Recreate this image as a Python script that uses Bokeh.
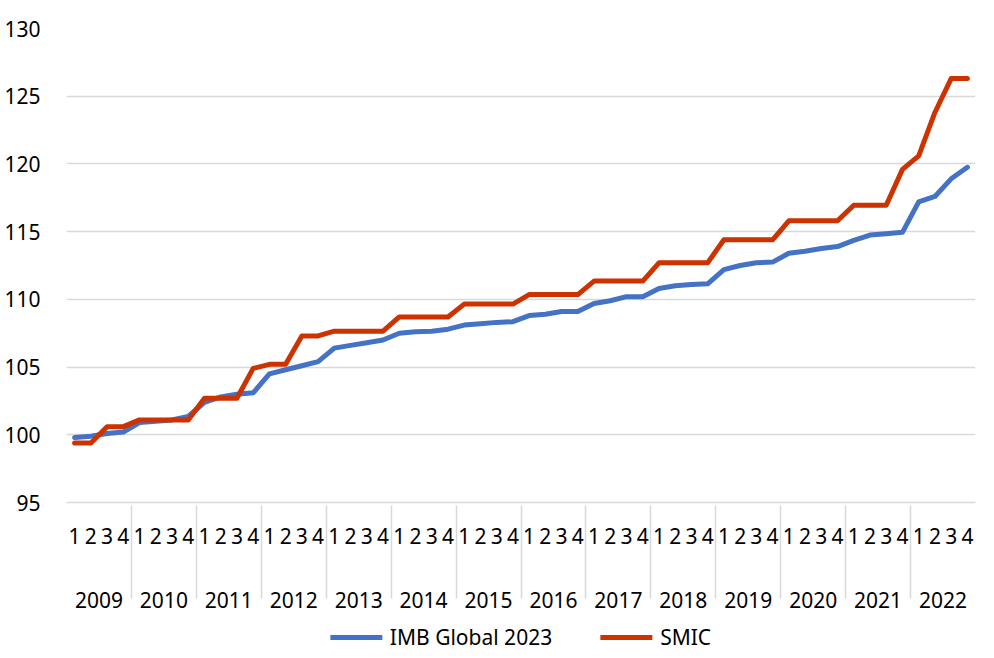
from bokeh.plotting import figure
from bokeh.layouts import column
from bokeh.models import (ColumnDataSource, FactorRange, Range1d, FixedTicker,
                          Legend, LegendItem)
from bokeh.embed import file_html
from bokeh.resources import INLINE

years = ["2009", "2010", "2011", "2012", "2013", "2014", "2015",
         "2016", "2017", "2018", "2019", "2020", "2021", "2022"]
quarters = ["1", "2", "3", "4"]

imb_global_2023 = [99.8, 99.9, 100.1, 100.2,
                   100.9, 101.0, 101.1, 101.35,
                   102.4, 102.8, 103.0, 103.1,
                   104.5, 104.8, 105.1, 105.4,
                   106.4, 106.6, 106.8, 107.0,
                   107.5, 107.6, 107.65, 107.8,
                   108.1, 108.2, 108.3, 108.35,
                   108.8, 108.9, 109.1, 109.1,
                   109.7, 109.9, 110.2, 110.2,
                   110.8, 111.0, 111.1, 111.15,
                   112.2, 112.5, 112.7, 112.75,
                   113.4, 113.55, 113.75, 113.9,
                   114.35, 114.75, 114.85, 114.95,
                   117.2, 117.6, 118.9, 119.75]

smic = [99.4, 99.4, 100.6, 100.6,
        101.1, 101.1, 101.1, 101.1,
        102.7, 102.7, 102.7, 104.9,
        105.2, 105.2, 107.3, 107.3,
        107.65, 107.65, 107.65, 107.65,
        108.7, 108.7, 108.7, 108.7,
        109.65, 109.65, 109.65, 109.65,
        110.35, 110.35, 110.35, 110.35,
        111.35, 111.35, 111.35, 111.35,
        112.7, 112.7, 112.7, 112.7,
        114.4, 114.4, 114.4, 114.4,
        115.8, 115.8, 115.8, 115.8,
        116.95, 116.95, 116.95, 119.6,
        120.6, 123.8, 126.3, 126.3]

series_names = ["IMB Global 2023", "SMIC"]
series_colors = ["#4472c4", "#cc3300"]

y_ticks = [95, 100, 105, 110, 115, 120, 125, 130]

# a blank middle level only adds vertical room between the quarter and year rows
factors = [(y, " ", q) for y in years for q in quarters]
source = ColumnDataSource(data=dict(x=factors, imb=imb_global_2023, smic=smic))

FONT = "Noto Sans"
GRID = "#d9d9d9"

p = figure(width=978, height=624, output_backend="svg", toolbar_location=None,
           x_range=FactorRange(*factors, group_padding=0, subgroup_padding=0,
                               range_padding=0),
           y_range=Range1d(95, 130),
           min_border_left=66, min_border_top=28, min_border_right=3,
           min_border_bottom=122)
p.outline_line_color = None

r1 = p.line(x="x", y="imb", source=source, line_color=series_colors[0], line_width=5,
            line_join="round", line_cap="round")
r2 = p.line(x="x", y="smic", source=source, line_color=series_colors[1], line_width=5,
            line_join="round", line_cap="round")

# y axis
p.yaxis.ticker = FixedTicker(ticks=y_ticks)
p.yaxis.axis_line_color = None
p.yaxis.major_tick_line_color = None
p.yaxis.minor_tick_line_color = None
p.yaxis.major_label_text_font = FONT
p.yaxis.major_label_text_font_size = "21px"
p.yaxis.major_label_text_color = "#000000"
p.yaxis.major_label_standoff = 20

p.ygrid.grid_line_color = GRID
p.ygrid.grid_line_width = 1.5
p.xgrid.grid_line_color = None

# x axis
xa = p.xaxis[0]
xa.axis_line_color = GRID
xa.axis_line_width = 1.5
xa.major_tick_line_color = None
xa.minor_tick_line_color = None
xa.major_label_text_font = FONT
xa.major_label_text_font_size = "21px"
xa.major_label_text_color = "#000000"
xa.major_label_standoff = 19
xa.subgroup_text_font = FONT
xa.subgroup_text_font_size = "3px"
xa.subgroup_text_color = "#000000"
xa.group_text_font = FONT
xa.group_text_font_size = "21px"
xa.group_text_font_style = "normal"
xa.group_text_color = "#000000"
xa.separator_line_color = GRID
xa.separator_line_width = 1.5

# legend in its own strip below the chart
lg = figure(width=978, height=26, output_backend="svg", toolbar_location=None,
            x_range=Range1d(0, 1), y_range=Range1d(0, 1),
            min_border=0)
lg.axis.visible = False
lg.grid.visible = False
lg.outline_line_color = None
proxy_src = ColumnDataSource(data=dict(x=[5, 6], y=[5, 6]))  # off-canvas proxies
l1 = lg.line(x="x", y="y", source=proxy_src, line_color=series_colors[0],
             line_width=5, line_cap="round")
l2 = lg.line(x="x", y="y", source=proxy_src, line_color=series_colors[1],
             line_width=5, line_cap="round")
legend = Legend(items=[LegendItem(label=series_names[0], renderers=[l1]),
                       LegendItem(label=series_names[1], renderers=[l2])],
                orientation="horizontal", location="center",
                label_text_font=FONT, label_text_font_size="21px",
                label_text_color="#000000", label_standoff=8,
                glyph_width=52, spacing=48, border_line_color=None,
                background_fill_alpha=0, padding=0, margin=0)
lg.add_layout(legend)

layout = column(p, lg, spacing=0)
open("out.html", "w").write(file_html(layout, INLINE))
